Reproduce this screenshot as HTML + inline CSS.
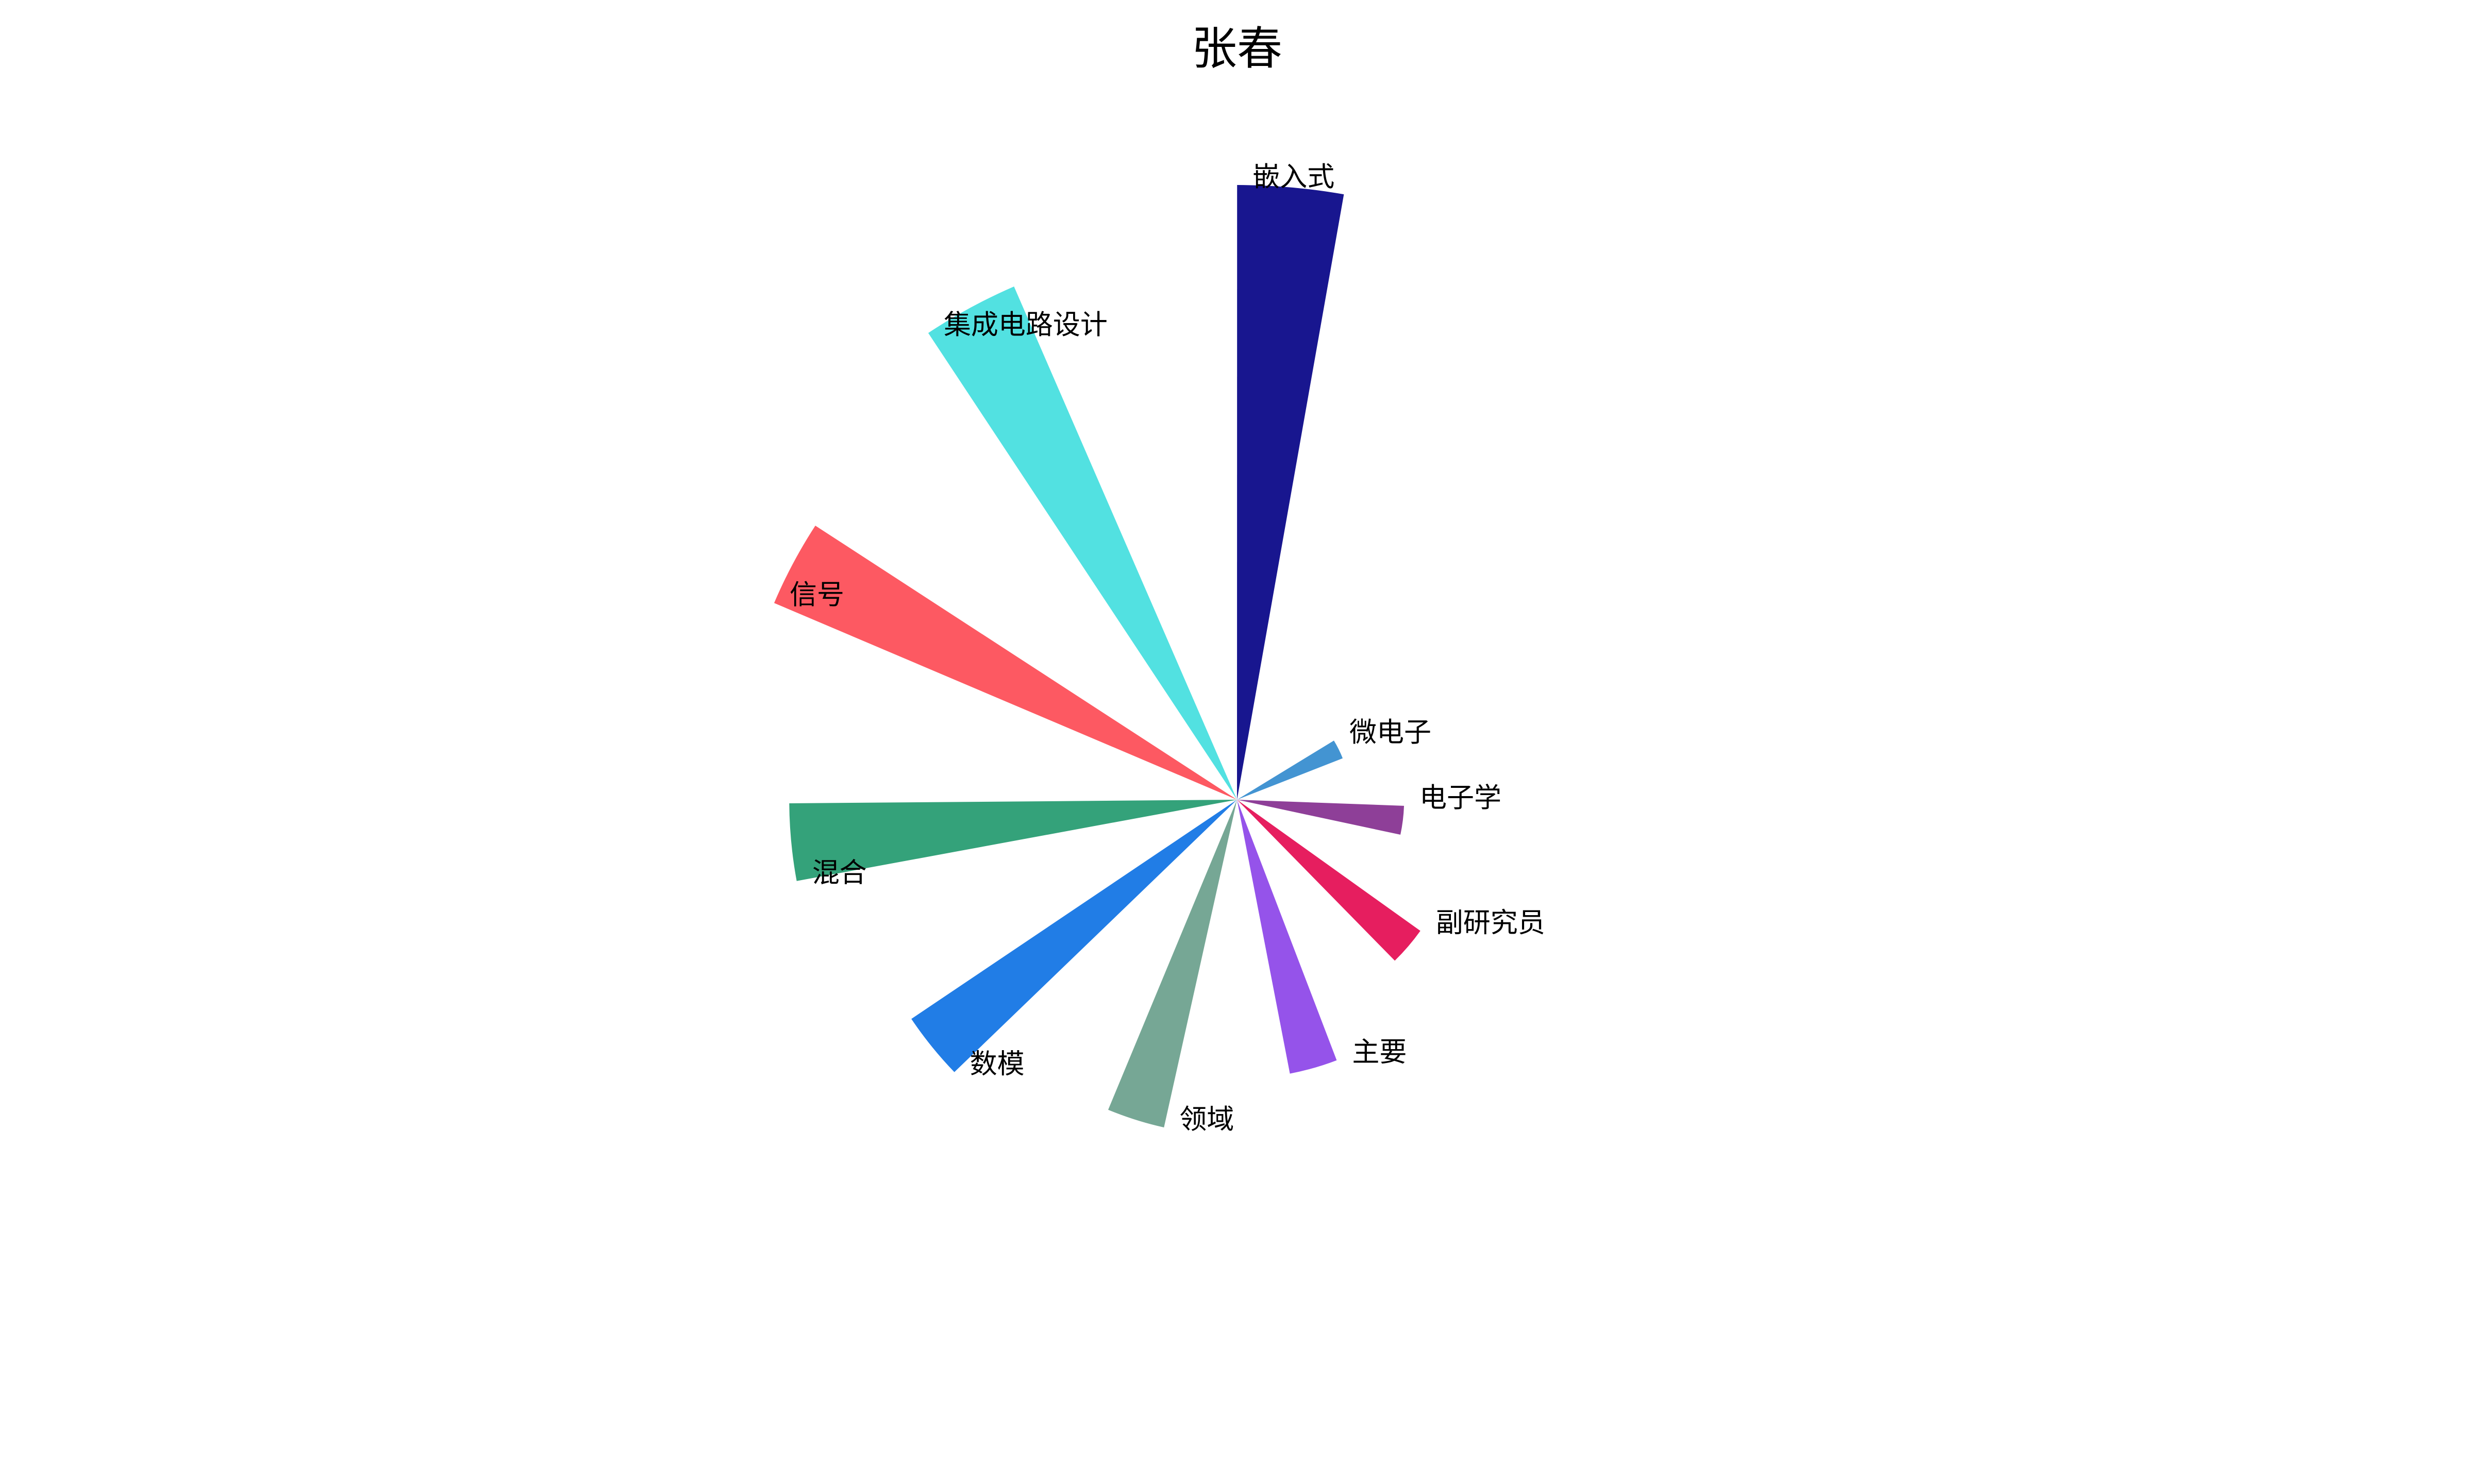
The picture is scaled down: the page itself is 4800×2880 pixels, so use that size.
<!DOCTYPE html>
<html><head><meta charset="utf-8"><style>
html,body{margin:0;padding:0;background:#fff;}
svg{display:block;}
text{font-family:"Liberation Sans","Noto Sans CJK SC",sans-serif;}
</style></head><body>
<svg id="chart" width="4800" height="2880" viewBox="0 0 4800 2880" xmlns="http://www.w3.org/2000/svg">
<rect width="4800" height="2880" fill="#fff"/>
<text x="2400" y="101" font-size="88" text-anchor="middle" dominant-baseline="middle" fill="#000">张春</text>
<g id="bars"></g>
<g id="labels"></g>
</svg>
<script>
const categories = ["微电子","电子学","副研究员","主要","领域","数模","混合","信号","集成电路设计","嵌入式"];
const values = [72,106,143,177,213,249,284,319,355,390];
const colors = ["#4394d2","#8e3f98","#e61e5f","#9553ea","#76a795","#217de6","#34a27a","#fd5962","#52e1e1","#18168f"];

const CX = 2400, CY = 1552;
const maxVal = 390, maxR = 1193;
const startAngle = 58.6, step = 33.49, barWidth = 10;
function rScale(v){ return v / maxVal * maxR; }
function angleOf(i){ return startAngle + i * step; }
function pt(angDeg, r){
  const a = angDeg * Math.PI / 180;
  return [CX + r * Math.sin(a), CY - r * Math.cos(a)];
}
const NS = "http://www.w3.org/2000/svg";
const gb = document.getElementById("bars");
const gl = document.getElementById("labels");
categories.forEach((c, i) => {
  const a0 = angleOf(i), a1 = a0 + barWidth, r = rScale(values[i]);
  const p0 = pt(a0, r), p1 = pt(a1, r);
  const path = document.createElementNS(NS, "path");
  path.setAttribute("d", `M${CX},${CY} L${p0[0]},${p0[1]} A${r},${r} 0 0 1 ${p1[0]},${p1[1]} Z`);
  path.setAttribute("fill", colors[i]);
  
  
  gb.appendChild(path);
  const lp = pt(a0, r);
  const t = document.createElementNS(NS, "text");
  t.setAttribute("x", lp[0] + 30);
  t.setAttribute("y", lp[1] - 12);
  t.setAttribute("font-size", "53");
  t.setAttribute("dominant-baseline", "middle");
  t.setAttribute("fill", "#000");
  t.textContent = c;
  
  
  gl.appendChild(t);
});
</script>
</body></html>
